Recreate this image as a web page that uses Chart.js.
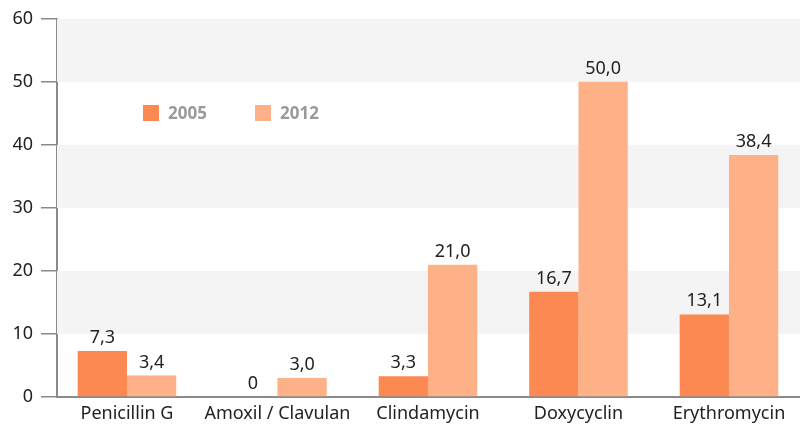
<!DOCTYPE html>
<html>
<head>
<meta charset="utf-8">
<script src="https://cdn.jsdelivr.net/npm/chart.js@4/dist/chart.umd.min.js"></script>
<style>
html,body{margin:0;padding:0;background:#fff;}
#wrap{width:800px;height:425px;position:relative;}
</style>
</head>
<body>
<div id="wrap"><canvas id="c"></canvas></div>
<script>
const categories = ["Penicillin G", "Amoxil / Clavulan", "Clindamycin", "Doxycyclin", "Erythromycin"];
const seriesNames = ["2005", "2012"];
const values2005 = [7.3, 0, 3.3, 16.7, 13.1];
const values2012 = [3.4, 3.0, 21.0, 50.0, 38.4];
const labels2005 = ["7,3", "0", "3,3", "16,7", "13,1"];
const labels2012 = ["3,4", "3,0", "21,0", "50,0", "38,4"];
const yTicks = [0, 10, 20, 30, 40, 50, 60];

const FONT = "'Noto Sans', sans-serif";
const colors = ["#FC8952", "#FEB086"];

const bandsPlugin = {
  id: 'bands',
  beforeDatasetsDraw(chart) {
    const {ctx, chartArea, scales} = chart;
    const y = scales.y;
    ctx.save();
    ctx.fillStyle = "#f4f4f4";
    for (let i = 1; i + 1 < yTicks.length; i += 2) {
      const top = y.getPixelForValue(yTicks[i + 1]);
      const bot = y.getPixelForValue(yTicks[i]);
      ctx.fillRect(chartArea.left, top, chartArea.right - chartArea.left, bot - top);
    }
    ctx.restore();
  }
};

const labelsPlugin = {
  id: 'valueLabels',
  afterDatasetsDraw(chart) {
    const {ctx} = chart;
    const lbls = [labels2005, labels2012];
    ctx.save();
    ctx.font = "18px " + FONT;
    ctx.fillStyle = "#222";
    ctx.textAlign = "center";
    ctx.textBaseline = "alphabetic";
    chart.data.datasets.forEach((ds, di) => {
      const meta = chart.getDatasetMeta(di);
      meta.data.forEach((bar, i) => {
        ctx.fillText(lbls[di][i], bar.x, bar.y - 8);
      });
    });
    ctx.restore();
  }
};

const legendPlugin = {
  id: 'customLegend',
  afterDatasetsDraw(chart) {
    const {ctx} = chart;
    const positions = [[143, 105], [255, 105]];
    ctx.save();
    ctx.font = "bold 17px " + FONT;
    ctx.textBaseline = "middle";
    ctx.textAlign = "left";
    chart.data.datasets.forEach((ds, i) => {
      const [x, y] = positions[i];
      ctx.fillStyle = ds.backgroundColor;
      ctx.fillRect(x, y, 16, 16);
      ctx.fillStyle = "#9a9a9a";
      ctx.fillText(ds.label, x + 25, y + 9);
    });
    ctx.restore();
  }
};

new Chart(document.getElementById('c'), {
  type: 'bar',
  data: {
    datasets: [
      {label: seriesNames[0], data: values2005.map((v, i) => ({x: i, y: v})), backgroundColor: colors[0], borderWidth: 0},
      {label: seriesNames[1], data: values2012.map((v, i) => ({x: i, y: v})), backgroundColor: colors[1], borderWidth: 0}
    ]
  },
  options: {
    responsive: true,
    maintainAspectRatio: false,
    animation: false,
    layout: {padding: {top: 13, right: 0, left: 0, bottom: 0}},
    categoryPercentage: 0.655,
    barPercentage: 1.0,
    plugins: {
      legend: {display: false},
      tooltip: {enabled: false}
    },
    scales: {
      x: {
        type: 'linear',
        offset: false,
        min: -0.465,
        max: 4.472,
        afterFit(scale) { scale.height = 28; },
        afterBuildTicks(scale) { scale.ticks = categories.map((c, i) => ({value: i})); },
        grid: {display: false, drawTicks: false, offset: false},
        border: {display: true, color: "#8a8a8a", width: 2},
        ticks: {
          font: {family: FONT, size: 18}, color: "#222", padding: 6, maxRotation: 0, autoSkip: false,
          callback: (v) => categories[v]
        }
      },
      y: {
        min: 0, max: 60,
        afterFit(scale) { scale.width = 57; },
        afterBuildTicks(scale) { scale.ticks = yTicks.map(v => ({value: v})); },
        grid: {drawOnChartArea: false, drawTicks: true, tickLength: 16, color: "#8a8a8a", lineWidth: 1.5},
        border: {display: true, color: "#8a8a8a", width: 2},
        ticks: {font: {family: FONT, size: 18}, color: "#222", padding: 8}
      }
    }
  },
  plugins: [bandsPlugin, labelsPlugin, legendPlugin]
});
</script>
</body>
</html>
